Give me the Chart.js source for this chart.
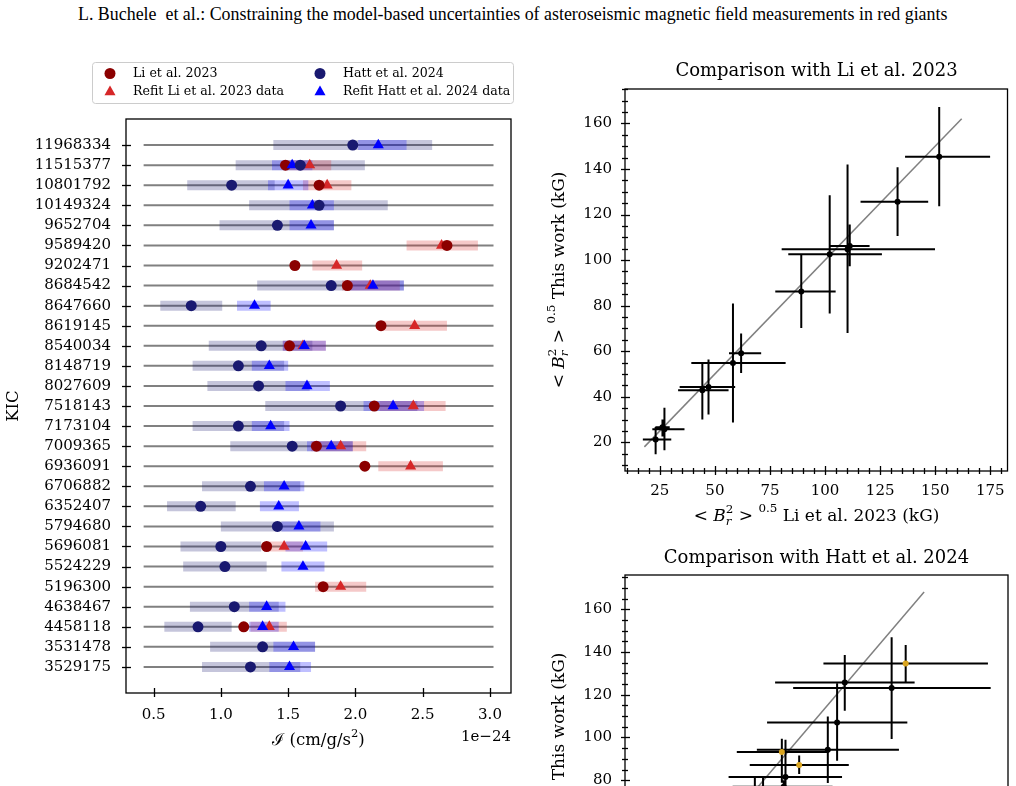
<!DOCTYPE html>
<html>
<head>
<meta charset="utf-8">
<script src="https://cdn.jsdelivr.net/npm/chart.js@4.4.1/dist/chart.umd.min.js"></script>
<style>
  body { margin: 0; width: 1016px; height: 786px; overflow: hidden; background: #fff; position: relative; }
  canvas { position: absolute; }
  #head { position: absolute; top: 4px; left: 78px; white-space: nowrap; font-family: 'Liberation Serif', serif; font-size: 17px; }
</style>
</head>
<body>
<span id="head">L. Buchele &nbsp;et al.: Constraining the model-based uncertainties of asteroseismic magnetic field measurements in red giants</span>
<canvas id="kicChart" width="530" height="736" style="left:0;top:50px"></canvas>
<canvas id="liChart" width="476" height="500" style="left:540px;top:50px"></canvas>
<canvas id="hattChart" width="476" height="520" style="left:540px;top:530px"></canvas>
<script>
// ---- left panel: I in units of 1e-24 cm/g/s^2, rows top to bottom, null = not in that sample
const kic = ['11968334','11515377','10801792','10149324','9652704','9589420','9202471','8684542','8647660','8619145','8540034','8148719','8027609','7518143','7173104','7009365','6936091','6706882','6352407','5794680','5696081','5524229','5196300','4638467','4458118','3531478','3529175']
const liI        = [null,1.48,1.73,null,null,2.68,1.55,1.94,null,2.19,1.51,null,null,2.14,null,1.71,2.07,null,null,null,1.34,null,1.76,null,1.17,null,null]
const liRefit    = [null,1.66,1.79,null,null,2.64,1.86,2.11,null,2.44,1.61,null,null,2.43,null,1.89,2.41,null,null,null,1.47,null,1.89,null,1.36,null,null]
const liRefitLo  = [null,1.49,1.61,null,null,2.38,1.68,1.90,null,2.20,1.46,null,null,2.18,null,1.67,2.17,null,null,null,1.36,null,1.70,null,1.22,null,null]
const liRefitHi  = [null,1.82,1.97,null,null,2.91,2.05,2.33,null,2.68,1.78,null,null,2.67,null,2.08,2.65,null,null,null,1.61,null,2.08,null,1.49,null,null]
const hattI      = [1.98,1.59,1.08,1.73,1.42,null,null,1.82,0.78,null,1.30,1.13,1.28,1.89,1.13,1.53,null,1.22,0.85,1.42,1.00,1.03,null,1.10,0.83,1.31,1.22]
const hattLo     = [1.39,1.11,0.75,1.21,0.99,null,null,1.27,0.55,null,0.91,0.79,0.90,1.33,0.79,1.07,null,0.86,0.60,1.00,0.70,0.72,null,0.77,0.58,0.92,0.86]
const hattHi     = [2.57,2.07,1.40,2.24,1.84,null,null,2.36,1.01,null,1.68,1.47,1.66,2.46,1.47,1.98,null,1.59,1.11,1.84,1.30,1.34,null,1.43,1.08,1.70,1.59]
const hattRefit  = [2.17,1.53,1.50,1.68,1.67,null,null,2.13,1.25,null,1.62,1.36,1.64,2.28,1.37,1.82,null,1.47,1.43,1.58,1.63,1.61,null,1.34,1.31,1.54,1.51]
const hattRefitLo= [2.02,1.38,1.35,1.51,1.51,null,null,1.96,1.12,null,1.46,1.23,1.48,2.06,1.23,1.64,null,1.32,1.29,1.45,1.48,1.45,null,1.21,1.21,1.39,1.36]
const hattRefitHi= [2.38,1.68,1.65,1.84,1.84,null,null,2.36,1.37,null,1.78,1.50,1.81,2.51,1.51,1.98,null,1.62,1.58,1.74,1.79,1.77,null,1.48,1.43,1.70,1.67]
const guideSpan  = [0.426, 3.026]
const iTicks     = [0.5, 1.0, 1.5, 2.0, 2.5, 3.0]

// ---- top right: <Br^2>^0.5 (kG), Li et al. 2023 vs this work
const liB      = [151.8,132.9,102.1,110.2,111.2,89.2,61.9,58.2,47.1,44.3,27.1,26.2,23.1]
const liBLo    = [136.3,116.1,83.3,80.3,102.1,77.4,56.4,39.3,34.0,33.3,21.6,23.0,17.3]
const liBHi    = [174.9,146.8,125.8,149.9,120.2,104.8,71.0,82.1,59.2,56.2,36.2,29.5,30.2]
const workLi   = [145.4,125.6,102.5,104.7,106.2,86.2,59.1,54.8,44.3,42.8,25.7,26.6,21.2]
const workLiLo = [123.6,110.6,76.5,68.0,97.3,70.2,50.4,28.7,32.2,30.0,16.5,22.5,14.7]
const workLiHi = [167.2,140.7,128.5,142.0,115.6,102.2,67.8,80.9,56.3,55.3,35.2,30.0,26.7]
const liOneToOne = [18, 162]

// ---- bottom right: Hatt et al. 2024 vs this work (only the upper part is in view)
const hattB      = [157.9,124.5,150.2,120.3,115.2,90.0,99.5,92.0,75.2,79.7,91.0]
const hattBLo    = [112.8,86.3,96.2,81.9,76.3,65.3,72.4,60.8,55.0,60.0,63.0]
const hattBHi    = [203.0,162.8,204.5,158.8,154.2,115.6,126.7,123.0,95.0,100.0,117.8]
const workHatt   = [134.6,125.7,123.1,107.0,94.3,93.2,87.1,81.5,68.0,70.0,77.0]
const workHattLo = [125.9,112.5,99.3,89.1,78.7,78.8,82.9,64.0,55.0,58.0,70.0]
const workHattHi = [143.3,138.6,146.9,125.4,109.8,99.4,91.6,98.9,81.8,81.8,80.0]
const hattFlag   = [1,0,0,0,0,1,1,0,0,0,0]
const hattOneToOne = [15, 168]

const bTicks = [25, 50, 75, 100, 125, 150, 175, 200]
const wTicks = [20, 40, 60, 80, 100, 120, 140, 160]

const serif = "'DejaVu Serif', serif"
Chart.defaults.font.family = serif
Chart.defaults.color = '#000'

// fit the running head to the page width
const head = document.getElementById('head')
head.style.fontSize = (17 * 870 / head.getBoundingClientRect().width) + 'px'

function marks(vals) {
  return vals.map((v, i) => v == null ? null : {x: v, y: i}).filter(p => p)
}
function hSegs(lo, hi, ys) {
  const pts = []
  lo.forEach((v, i) => { if (v != null) pts.push({x: v, y: ys(i)}, {x: hi[i], y: ys(i)}, {x: null, y: null}) })
  return pts
}
function vSegs(xs, lo, hi) {
  const pts = []
  lo.forEach((v, i) => pts.push({x: xs[i], y: v}, {x: xs[i], y: hi[i]}, {x: null, y: null}))
  return pts
}
function minors(a, b, step, skip) {
  const out = []
  for (let v = a; v <= b; v += step) if (!skip.includes(v)) out.push(v)
  return out
}

// draw text made of runs (italic / super / subscript)
function drawRuns(ctx, runs, x, y, size, rot, align) {
  ctx.save()
  ctx.translate(x, y)
  if (rot) ctx.rotate(rot)
  let cx = 0, ps = 0, pw = 0
  const placed = []
  for (const r of runs) {
    const f = (r.it ? 'italic ' : '') + (size * (r.s || 1)).toFixed(1) + 'px ' + serif
    ctx.font = f
    const w = ctx.measureText(r.t).width
    const start = r.back ? ps : cx
    cx = r.back ? ps + Math.max(pw, w) : cx + w
    placed.push({r, f, start})
    ps = start; pw = w
  }
  const x0 = align === 'right' ? -cx : align === 'left' ? 0 : -cx / 2
  ctx.textBaseline = 'middle'
  ctx.textAlign = 'left'
  ctx.fillStyle = '#000'
  for (const p of placed) {
    ctx.font = p.f
    ctx.fillText(p.r.t, x0 + p.start, (p.r.dy || 0) * size)
  }
  ctx.restore()
}

// matplotlib-like frame, in/out ticks and labels
const mplAxes = {
  id: 'mplAxes',
  afterDraw(chart, args, o) {
    const {ctx, chartArea: a, scales: {x, y}} = chart
    ctx.save()
    ctx.strokeStyle = '#000'
    ctx.lineWidth = 1.3
    ctx.strokeRect(a.left, a.top, a.right - a.left, a.bottom - a.top)
    const tickX = (vals, tin, tout) => vals.forEach(v => {
      const p = Math.round(x.getPixelForValue(v)) + 0.5
      if (p < a.left || p > a.right) return
      ctx.beginPath(); ctx.moveTo(p, a.bottom - tin); ctx.lineTo(p, a.bottom + tout); ctx.stroke()
    })
    const tickY = (vals, tin, tout) => vals.forEach(v => {
      const p = Math.round(y.getPixelForValue(v)) + 0.5
      if (p < a.top || p > a.bottom) return
      ctx.beginPath(); ctx.moveTo(a.left - tout, p); ctx.lineTo(a.left + tin, p); ctx.stroke()
    })
    tickX(o.xMajor, 5, 4); tickY(o.yMajor, 5, 4)
    if (o.xMinor) tickX(o.xMinor, 3, 3)
    if (o.yMinor) tickY(o.yMinor, 3, 3)
    ctx.restore()
    for (const t of o.texts) drawRuns(ctx, t.runs, t.x, t.y, t.size, t.rot, t.align)
    if (o.legend) drawLegend(ctx, o.legend)
  }
}

function marker(ctx, style, color, x, y) {
  ctx.fillStyle = color
  ctx.beginPath()
  if (style === 'circle') ctx.arc(x, y, 5.5, 0, Math.PI * 2)
  else {
    const r = 6.4
    for (let k = 0; k < 3; k++) {
      const ang = k * 2 * Math.PI / 3
      ctx[k ? 'lineTo' : 'moveTo'](x + Math.sin(ang) * r, y - Math.cos(ang) * r)
    }
    ctx.closePath()
  }
  ctx.fill()
}

function drawLegend(ctx, lg) {
  ctx.save()
  ctx.fillStyle = 'rgba(255,255,255,0.8)'
  ctx.strokeStyle = '#cccccc'
  ctx.lineWidth = 1
  ctx.beginPath()
  if (ctx.roundRect) ctx.roundRect(lg.x, lg.y, lg.w, lg.h, 3)
  else ctx.rect(lg.x, lg.y, lg.w, lg.h)
  ctx.fill(); ctx.stroke()
  ctx.font = lg.size + 'px ' + serif
  ctx.textBaseline = 'middle'
  for (const it of lg.items) {
    marker(ctx, it.style, it.color, it.mx, it.my)
    ctx.fillStyle = '#000'
    ctx.fillText(it.label, it.tx, it.my)
  }
  ctx.restore()
}

const mathB = [{t: '<'}, {t: ' '}, {t: 'B', it: 1}, {t: '2', s: 0.7, dy: -0.42}, {t: 'r', it: 1, s: 0.7, dy: 0.28, back: 1}, {t: ' '}, {t: '>'}, {t: ' '}, {t: '0.5', s: 0.7, dy: -0.5}]

const common = {
  animation: false, responsive: false, events: [],
}
const tickFont = {family: serif, size: 15}

// ---------- KIC panel
const rowY = i => i
new Chart(document.getElementById('kicChart'), {
  type: 'scatter',
  data: {
    datasets: [
      {data: marks(hattI), pointStyle: 'circle', pointRadius: 5.5, pointBorderWidth: 0, backgroundColor: '#191970', order: 0},
      {data: marks(hattRefit), pointStyle: 'triangle', pointRadius: 6.4, pointBorderWidth: 0, backgroundColor: '#0000ff', order: 1},
      {data: marks(liI), pointStyle: 'circle', pointRadius: 5.5, pointBorderWidth: 0, backgroundColor: '#8b0000', order: 2},
      {data: marks(liRefit), pointStyle: 'triangle', pointRadius: 6.4, pointBorderWidth: 0, backgroundColor: '#d62728', order: 3},
      {data: hSegs(hattRefitLo, hattRefitHi, rowY), showLine: true, pointRadius: 0, borderWidth: 10, borderColor: 'rgba(0,0,255,0.25)', order: 4},
      {data: hSegs(liRefitLo, liRefitHi, rowY), showLine: true, pointRadius: 0, borderWidth: 10, borderColor: 'rgba(214,39,40,0.25)', order: 5},
      {data: hSegs(hattLo, hattHi, rowY), showLine: true, pointRadius: 0, borderWidth: 10, borderColor: 'rgba(25,25,112,0.25)', order: 6},
      {data: hSegs(kic.map(() => guideSpan[0]), kic.map(() => guideSpan[1]), rowY), showLine: true, pointRadius: 0, borderWidth: 2, borderColor: '#808080', order: 7}
    ]
  },
  options: {
    ...common,
    layout: {padding: {top: 69, right: 19, left: 0, bottom: 0}},
    scales: {
      x: {
        type: 'linear', min: 0.295, max: 3.156,
        afterFit: s => { s.height = 93 },
        afterBuildTicks: s => { s.ticks = iTicks.map(v => ({value: v})) },
        grid: {display: false, drawTicks: false, tickLength: 0}, border: {display: false},
        ticks: {font: tickFont, color: '#000', padding: 13, maxRotation: 0, callback: v => v.toFixed(1)}
      },
      y: {
        type: 'linear', min: -1.3, max: 27.3, reverse: true,
        afterFit: s => { s.width = 126 },
        afterBuildTicks: s => { s.ticks = kic.map((k, i) => ({value: i})) },
        grid: {display: false, drawTicks: false, tickLength: 0}, border: {display: false},
        ticks: {font: tickFont, color: '#000', padding: 15, autoSkip: false, callback: v => kic[v]}
      }
    },
    plugins: {
      legend: {display: false}, tooltip: {enabled: false},
      mplAxes: {
        xMajor: iTicks, yMajor: kic.map((k, i) => i),
        texts: [
          {runs: [{t: 'ℐ'}, {t: ' (cm/g/s'}, {t: '2', s: 0.7, dy: -0.42}, {t: ')'}], x: 318.5, y: 691, size: 16.5},
          {runs: [{t: '1e−24'}], x: 511, y: 687, size: 15, align: 'right'},
          {runs: [{t: 'KIC'}], x: 14, y: 356, size: 16.5, rot: -Math.PI / 2}
        ],
        legend: {
          x: 92.5, y: 12.5, w: 421, h: 41, size: 12.6,
          items: [
            {label: 'Li et al. 2023', style: 'circle', color: '#8b0000', mx: 110, my: 23.5, tx: 133},
            {label: 'Refit Li et al. 2023 data', style: 'triangle', color: '#d62728', mx: 110, my: 42, tx: 133},
            {label: 'Hatt et al. 2024', style: 'circle', color: '#191970', mx: 320, my: 23.5, tx: 343},
            {label: 'Refit Hatt et al. 2024 data', style: 'triangle', color: '#0000ff', mx: 320, my: 42, tx: 343}
          ]
        }
      }
    }
  },
  plugins: [mplAxes]
})

// ---------- comparison panels
function comparison(id, xs, xLo, xHi, ys, yLo, yHi, line, colors, lim, pad, xH, texts) {
  new Chart(document.getElementById(id), {
    type: 'scatter',
    data: {
      datasets: [
        {data: xs.map((v, i) => ({x: v, y: ys[i]})), pointRadius: 3, pointBorderWidth: 0, backgroundColor: colors, order: 0},
        {data: hSegs(xLo, xHi, i => ys[i]), showLine: true, pointRadius: 0, borderWidth: 2, borderColor: '#000', order: 1},
        {data: vSegs(xs, yLo, yHi), showLine: true, pointRadius: 0, borderWidth: 2, borderColor: '#000', order: 2},
        {data: [{x: line[0], y: line[0]}, {x: line[1], y: line[1]}], showLine: true, pointRadius: 0, borderWidth: 1.5, borderColor: '#808080', order: 3}
      ]
    },
    options: {
      ...common,
      layout: {padding: pad},
      scales: {
        x: {
          type: 'linear', min: lim[0], max: lim[1],
          afterFit: s => { s.height = xH },
          afterBuildTicks: s => { s.ticks = bTicks.filter(v => v <= lim[1]).map(v => ({value: v})) },
          grid: {display: false, drawTicks: false, tickLength: 0}, border: {display: false},
          ticks: {font: tickFont, color: '#000', padding: 11, maxRotation: 0}
        },
        y: {
          type: 'linear', min: lim[2], max: lim[3],
          afterFit: s => { s.width = 85 },
          afterBuildTicks: s => { s.ticks = wTicks.map(v => ({value: v})) },
          grid: {display: false, drawTicks: false, tickLength: 0}, border: {display: false},
          ticks: {font: tickFont, color: '#000', padding: 13}
        }
      },
      plugins: {
        legend: {display: false}, tooltip: {enabled: false},
        mplAxes: {
          xMajor: bTicks, yMajor: wTicks,
          xMinor: minors(5, 210, 5, bTicks), yMinor: minors(5, 175, 5, wTicks),
          texts: texts
        }
      }
    },
    plugins: [mplAxes]
  })
}

comparison('liChart', liB, liBLo, liBHi, workLi, workLiLo, workLiHi, liOneToOne,
  '#000', [9.2, 182.8, 7.4, 175.1], {top: 39, right: 8, left: 0, bottom: 0}, 79, [
    {runs: [{t: 'Comparison with Li et al. 2023'}], x: 276.5, y: 21, size: 18},
    {runs: [...mathB, {t: ' Li et al. 2023 (kG)'}], x: 276.5, y: 467, size: 17},
    {runs: [...mathB, {t: ' This work (kG)'}], x: 20, y: 230, size: 17, rot: -Math.PI / 2}
  ])

comparison('hattChart', hattB, hattBLo, hattBHi, workHatt, workHattLo, workHattHi, hattOneToOne,
  hattFlag.map(f => f ? '#daa520' : '#000'), [4, 214, 2, 176], {top: 45, right: 8, left: 0, bottom: 0}, 103, [
    {runs: [{t: 'Comparison with Hatt et al. 2024'}], x: 276.5, y: 28, size: 18},
    {runs: [...mathB, {t: ' Hatt et al. 2024 (kG)'}], x: 276.5, y: 463, size: 17},
    {runs: [...mathB, {t: ' This work (kG)'}], x: 20, y: 231, size: 17, rot: -Math.PI / 2}
  ])
</script>
</body>
</html>
